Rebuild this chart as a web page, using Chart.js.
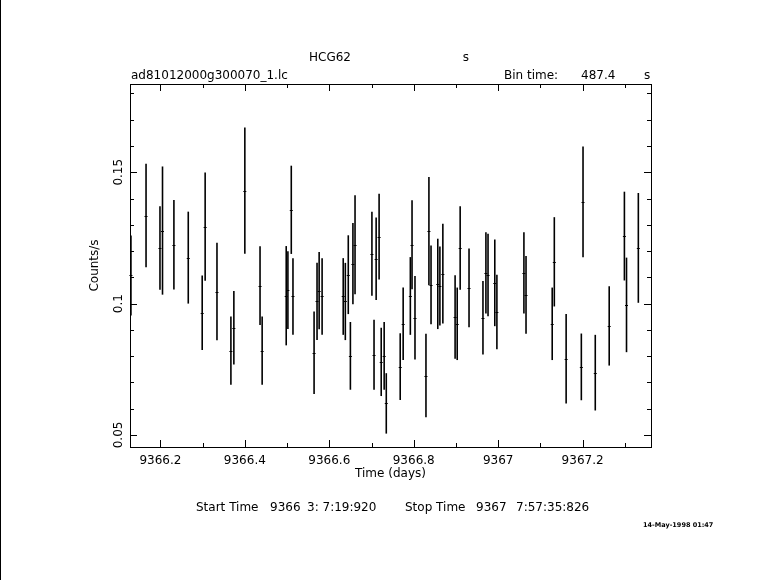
<!DOCTYPE html>
<html>
<head>
<meta charset="utf-8">
<script src="https://cdn.jsdelivr.net/npm/chart.js@4.4.0/dist/chart.umd.min.js"></script>
<style>
  html, body { margin: 0; padding: 0; background: #fff; }
  #wrap { width: 781px; height: 580px; }
</style>
</head>
<body>
<div id="wrap"><canvas id="lc" width="781" height="580"></canvas></div>
<script>
// light curve
const times = [
  9366.1302, 9366.166, 9366.199, 9366.205, 9366.232, 9366.266, 9366.299, 9366.306,
  9366.334, 9366.367, 9366.374, 9366.400, 9366.436, 9366.441, 9366.498, 9366.502,
  9366.510, 9366.514, 9366.564, 9366.571, 9366.576, 9366.583, 9366.633, 9366.638,
  9366.645, 9366.650, 9366.656, 9366.661, 9366.701, 9366.706, 9366.711, 9366.718,
  9366.723, 9366.730, 9366.735, 9366.768, 9366.775, 9366.792, 9366.796, 9366.803,
  9366.829, 9366.836, 9366.841, 9366.857, 9366.862, 9366.869, 9366.898, 9366.903,
  9366.910, 9366.931, 9366.964, 9366.971, 9366.976, 9366.992, 9366.997, 9367.061,
  9367.066, 9367.128, 9367.133, 9367.161, 9367.197, 9367.201, 9367.230, 9367.263,
  9367.299, 9367.304, 9367.332
];
const rates = [
  0.1107, 0.1335, 0.1212, 0.1278, 0.1224, 0.1175, 0.0965, 0.1293,
  0.1046, 0.0821, 0.0908, 0.1430, 0.1068, 0.0821, 0.1030, 0.1051,
  0.1357, 0.1027, 0.0813, 0.1008, 0.1049, 0.1027, 0.1027, 0.1008,
  0.1110, 0.0801, 0.1152, 0.1224, 0.1190, 0.0805, 0.1171, 0.1255,
  0.0778, 0.0801, 0.0620, 0.0760, 0.0923, 0.1029, 0.1224, 0.0946,
  0.0726, 0.1276, 0.1071, 0.1075, 0.1067, 0.1114, 0.0949, 0.0923,
  0.1212, 0.1060, 0.0946, 0.1117, 0.1109, 0.1079, 0.0968, 0.1117,
  0.1033, 0.0923, 0.1159, 0.0790, 0.0759, 0.1387, 0.0737, 0.0915,
  0.1257, 0.0995, 0.1212
];
const errors = [
  0.0152, 0.0197, 0.0159, 0.0244, 0.0170, 0.0175, 0.0142, 0.0206,
  0.0186, 0.0130, 0.0140, 0.0240, 0.0150, 0.0130, 0.0189, 0.0148,
  0.0168, 0.0146, 0.0157, 0.0147, 0.0147, 0.0146, 0.0146, 0.0147,
  0.0150, 0.0129, 0.0155, 0.0188, 0.0160, 0.0133, 0.0157, 0.0163,
  0.0130, 0.0129, 0.0115, 0.0127, 0.0138, 0.0148, 0.0169, 0.0159,
  0.0159, 0.0206, 0.0150, 0.0172, 0.0150, 0.0190, 0.0159, 0.0138,
  0.0159, 0.0150, 0.0140, 0.0155, 0.0157, 0.0165, 0.0142, 0.0155,
  0.0148, 0.0138, 0.0170, 0.0170, 0.0127, 0.0211, 0.0144, 0.0151,
  0.0169, 0.0180, 0.0209
];
const binTime = 487.4;              // s
const halfBin = binTime / 86400 / 2; // days

const xRange = [9366.128, 9367.362];
const yRange = [0.0454, 0.1836];
const xMajor = [9366.2, 9366.4, 9366.6, 9366.8, 9367.0, 9367.2];
const xMajorLabels = ["9366.2", "9366.4", "9366.6", "9366.8", "9367", "9367.2"];
const xMinor = [9366.3, 9366.5, 9366.7, 9366.9, 9367.1, 9367.3];
const yMajor = [0.05, 0.10, 0.15];
const yMajorLabels = ["0.05", "0.1", "0.15"];
const yMinor = [0.06, 0.07, 0.08, 0.09, 0.11, 0.12, 0.13, 0.14, 0.16, 0.17, 0.18];

const FONT = "12px 'DejaVu Sans', sans-serif";

// frame, inward ticks, labels, error bars - drawn with the chart's scales
const pgplotLook = {
  id: "pgplotLook",
  afterDraw(chart) {
    const ctx = chart.ctx;
    const xs = chart.scales.x, ys = chart.scales.y;
    const a = chart.chartArea;
    ctx.save();
    ctx.strokeStyle = "#000";
    ctx.fillStyle = "#000";

    // left page edge
    ctx.lineWidth = 1;
    ctx.beginPath(); ctx.moveTo(0.5, 0); ctx.lineTo(0.5, 580); ctx.stroke();

    // frame
    ctx.strokeRect(Math.round(a.left) + 0.5, Math.round(a.top) + 0.5,
                   Math.round(a.right - a.left), Math.round(a.bottom - a.top));

    const tick = (px, len, vertical) => {
      ctx.beginPath();
      if (vertical) {
        ctx.moveTo(px, a.bottom); ctx.lineTo(px, a.bottom - len);
        ctx.moveTo(px, a.top);    ctx.lineTo(px, a.top + len);
      } else {
        ctx.moveTo(a.left, px);  ctx.lineTo(a.left + len, px);
        ctx.moveTo(a.right, px); ctx.lineTo(a.right - len, px);
      }
      ctx.stroke();
    };
    xMajor.forEach(v => tick(Math.round(xs.getPixelForValue(v)) + 0.5, 7, true));
    xMinor.forEach(v => tick(Math.round(xs.getPixelForValue(v)) + 0.5, 4, true));
    yMajor.forEach(v => tick(Math.round(ys.getPixelForValue(v)) + 0.5, 7, false));
    yMinor.forEach(v => tick(Math.round(ys.getPixelForValue(v)) + 0.5, 4, false));

    // tick labels
    ctx.font = FONT;
    ctx.textAlign = "center";
    ctx.textBaseline = "middle";
    xMajor.forEach((v, i) => ctx.fillText(xMajorLabels[i], xs.getPixelForValue(v), a.bottom + 14));
    yMajor.forEach((v, i) => {
      ctx.save();
      ctx.translate(a.left - 11, ys.getPixelForValue(v));
      ctx.rotate(-Math.PI / 2);
      ctx.fillText(yMajorLabels[i], 0, 0);
      ctx.restore();
    });

    // axis titles
    ctx.fillText("Time (days)", (a.left + a.right) / 2, a.bottom + 27);
    ctx.save();
    ctx.translate(95, (a.top + a.bottom) / 2);
    ctx.rotate(-Math.PI / 2);
    ctx.fillText("Counts/s", 0, 0);
    ctx.restore();

    // header
    ctx.fillText("HCG62", 330, 58);
    ctx.fillText("s", 466, 58);
    ctx.textAlign = "left";
    ctx.fillText("ad81012000g300070_1.lc", 131, 76);
    ctx.fillText("Bin time:", 504, 76);
    ctx.fillText(binTime.toFixed(1), 581, 76);
    ctx.fillText("s", 644, 76);

    // footer
    ctx.fillText("Start Time", 196, 508);
    ctx.fillText("9366", 270, 508);
    ctx.fillText("3: 7:19:920", 307, 508);
    ctx.fillText("Stop Time", 405, 508);
    ctx.fillText("9367", 476, 508);
    ctx.fillText("7:57:35:826", 516, 508);
    ctx.font = "bold 6.5px 'DejaVu Sans', sans-serif";
    ctx.fillText("14-May-1998 01:47", 643, 525);

    // error bars
    ctx.beginPath();
    ctx.rect(a.left - 2, a.top, a.right - a.left + 4, a.bottom - a.top);
    ctx.clip();
    times.forEach((t, i) => {
      const px = xs.getPixelForValue(t);
      const py = ys.getPixelForValue(rates[i]);
      ctx.lineWidth = 1.6;
      ctx.beginPath();
      ctx.moveTo(px, ys.getPixelForValue(rates[i] + errors[i]));
      ctx.lineTo(px, ys.getPixelForValue(rates[i] - errors[i]));
      ctx.stroke();
      ctx.lineWidth = 1;
      ctx.beginPath();
      ctx.moveTo(Math.min(px - 1.5, xs.getPixelForValue(t - halfBin)), Math.round(py) + 0.5);
      ctx.lineTo(Math.max(px + 1.5, xs.getPixelForValue(t + halfBin)), Math.round(py) + 0.5);
      ctx.stroke();
    });
    ctx.restore();
  }
};

new Chart(document.getElementById("lc"), {
  type: "scatter",
  data: {
    datasets: [{
      label: "HCG62",
      data: times.map((t, i) => ({ x: t, y: rates[i] })),
      pointRadius: 0,
      showLine: false
    }]
  },
  options: {
    responsive: false,
    animation: false,
    devicePixelRatio: 1,
    layout: { padding: { left: 130, top: 84, right: 130, bottom: 133 } },
    plugins: { legend: { display: false }, tooltip: { enabled: false } },
    scales: {
      x: { type: "linear", min: xRange[0], max: xRange[1], display: false },
      y: { type: "linear", min: yRange[0], max: yRange[1], display: false }
    }
  },
  plugins: [pgplotLook]
});
</script>
</body>
</html>
